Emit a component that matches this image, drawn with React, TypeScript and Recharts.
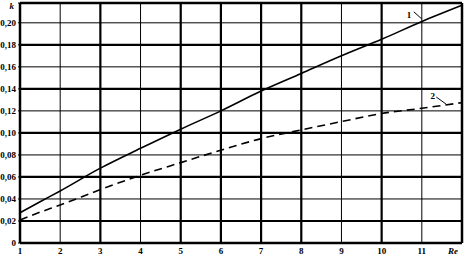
import React from 'react';
import { LineChart, Line, XAxis, YAxis, ReferenceLine, ReferenceDot } from 'recharts';

const reValues = [1, 1.5, 2, 3, 4, 5, 6, 7, 8, 9, 10, 11, 12];
const curve1 = [0.0275, 0.0375, 0.0473, 0.068, 0.086, 0.1034, 0.12, 0.138, 0.154, 0.17, 0.185, 0.2012, 0.216];
const curve2 = [0.021, 0.028, 0.0345, 0.0485, 0.0615, 0.073, 0.0843, 0.0948, 0.1027, 0.1103, 0.1176, 0.1224, 0.1275];
const xTicks = [1, 2, 3, 4, 5, 6, 7, 8, 9, 10, 11, 12];
const yTicks = [0, 0.02, 0.04, 0.06, 0.08, 0.1, 0.12, 0.14, 0.16, 0.18, 0.2, 0.218];
const xThick = [3, 5, 6, 7, 8, 10];
const xThin = [2, 4, 9, 11];
const yThick = [0.02, 0.06, 0.1, 0.14, 0.18];
const yThin = [0.04, 0.08, 0.12, 0.16, 0.2];

const data = reValues.map((re, i) => ({ re, k1: curve1[i], k2: curve2[i] }));

const font = '"Liberation Serif", serif';

const YTick = (props: any) => {
  const { x, y, payload } = props;
  const v = payload.value;
  const isTop = v > 0.21;
  const text = isTop ? 'k' : v === 0 ? '0' : v.toFixed(2).replace('.', ',');
  return (
    <text x={isTop ? x - 2 : x} y={isTop ? y + 3 : y} dy={3} textAnchor="end" fontSize={9} fontWeight="bold" fontFamily={font} fontStyle={isTop ? 'italic' : 'normal'} fill="#000">
      {text}
    </text>
  );
};

const XTick = (props: any) => {
  const { x, payload } = props;
  const v = payload.value;
  const isRe = v === 12;
  return (
    <text x={isRe ? x - 4 : x} y={254} textAnchor="middle" fontSize={9} fontWeight="bold" fontFamily={font} fontStyle={isRe ? 'italic' : 'normal'} fill="#000">
      {isRe ? 'Re' : String(v)}
    </text>
  );
};

export default function App() {
  return (
    <div style={{ position: 'absolute', left: 0, top: 0, background: '#fff' }}>
      <LineChart width={465} height={257} data={data} margin={{ top: 3, right: 3, left: 0, bottom: 0 }}>
        <XAxis
          dataKey="re"
          type="number"
          domain={[1, 12]}
          ticks={xTicks}
          height={14}
          tick={<XTick />}
          tickLine={false}
          axisLine={{ stroke: '#000', strokeWidth: 2.5 }}
        />
        <YAxis
          type="number"
          domain={[0, 0.218]}
          ticks={yTicks}
          width={20}
          tick={<YTick />}
          tickLine={{ stroke: '#000', strokeWidth: 1 }}
          tickSize={2}
          axisLine={{ stroke: '#000', strokeWidth: 2.5 }}
          interval={0}
        />
        {xThin.map((v) => (
          <ReferenceLine key={'xt' + v} x={v} stroke="#000" strokeWidth={1} />
        ))}
        {xThick.map((v) => (
          <ReferenceLine key={'xk' + v} x={v} stroke="#000" strokeWidth={2.2} />
        ))}
        {yThin.map((v) => (
          <ReferenceLine key={'yt' + v} y={v} stroke="#000" strokeWidth={1} />
        ))}
        {yThick.map((v) => (
          <ReferenceLine key={'yk' + v} y={v} stroke="#000" strokeWidth={2.2} />
        ))}
        <ReferenceLine y={0.218} stroke="#000" strokeWidth={2.5} />
        <ReferenceLine x={12} stroke="#000" strokeWidth={2.5} />
        <Line type="monotone" dataKey="k1" stroke="#000" strokeWidth={1.6} dot={false} isAnimationActive={false} />
        <Line type="monotone" dataKey="k2" stroke="#000" strokeWidth={1.6} strokeDasharray="8 5" dot={false} isAnimationActive={false} />
        <ReferenceLine segment={[{ x: 10.8, y: 0.21 }, { x: 11.0, y: 0.2035 }]} stroke="#000" strokeWidth={1} />
        <ReferenceLine segment={[{ x: 11.36, y: 0.1326 }, { x: 11.6, y: 0.1263 }]} stroke="#000" strokeWidth={1} />
        <ReferenceDot x={10.68} y={0.207} r={0} fill="none" stroke="none"
          label={{ value: '1', position: 'center', fontSize: 9, fontWeight: 'bold', fontFamily: font, fill: '#000' }} />
        <ReferenceDot x={11.27} y={0.1335} r={0} fill="none" stroke="none"
          label={{ value: '2', position: 'center', fontSize: 9, fontWeight: 'bold', fontFamily: font, fill: '#000' }} />
      </LineChart>
    </div>
  );
}
